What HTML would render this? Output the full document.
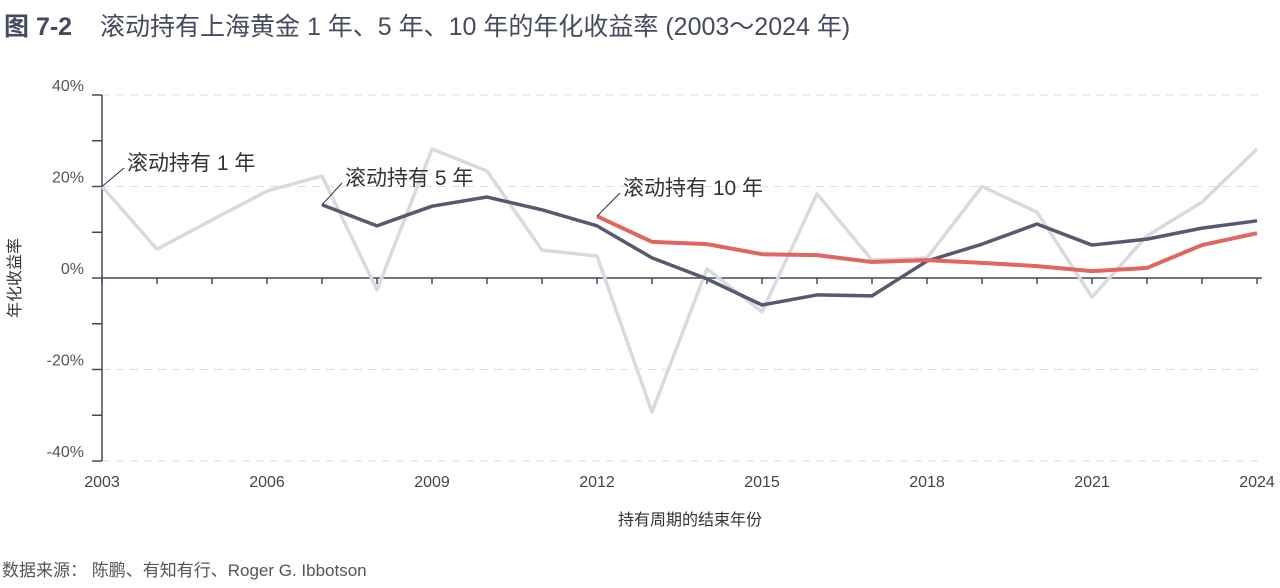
<!DOCTYPE html>
<html><head><meta charset="utf-8"><style>
body{margin:0;background:#fff;width:1280px;height:583px;overflow:hidden;font-family:"Liberation Sans","Noto Sans CJK SC",sans-serif}
svg text{font-family:"Liberation Sans","Noto Sans CJK SC",sans-serif}
</style></head><body>
<svg id="c" width="1280" height="583">
<text x="4" y="35" font-size="25" font-weight="bold" fill="#454a5c">图 7-2</text>
<text x="100" y="35" font-size="25" fill="#454a5c">滚动持有上海黄金 1 年、5 年、10 年的年化收益率 (2003～2024 年)</text>
<text x="20" y="278" font-size="16" fill="#333" transform="rotate(-90 20 278)" text-anchor="middle">年化收益率</text>
<text x="690" y="525" font-size="16" fill="#333" text-anchor="middle">持有周期的结束年份</text>
<text x="2" y="576" font-size="17" fill="#555">数据来源：  陈鹏、有知有行、Roger G. Ibbotson</text>
<g id="g"></g>
</svg>
<script>
const years=[2003,2004,2005,2006,2007,2008,2009,2010,2011,2012,2013,2014,2015,2016,2017,2018,2019,2020,2021,2022,2023,2024];
const r1=[20,6.3,12.7,19,22.3,-2.6,28.2,23.4,6.1,4.8,-29.3,2,-7.4,18.4,3.9,4.4,20,14.4,-4.2,9.2,16.6,28.2];
const y5=[2007,2008,2009,2010,2011,2012,2013,2014,2015,2016,2017,2018,2019,2020,2021,2022,2023,2024];
const r5=[16,11.4,15.7,17.7,14.9,11.4,4.4,-0.2,-5.9,-3.7,-3.9,3.7,7.4,11.8,7.2,8.5,10.9,12.5];
const y10=[2012,2013,2014,2015,2016,2017,2018,2019,2020,2021,2022,2023,2024];
const r10=[13.5,7.9,7.4,5.2,5,3.5,3.9,3.3,2.6,1.5,2.2,7.2,9.8];
const yTicks=[40,20,0,-20,-40];
const xLabels=[2003,2006,2009,2012,2015,2018,2021,2024];
const X=y=>102+(y-2003)*(1257-102)/21;
const Y=v=>278-v*183/40;
const g=document.getElementById('g');const NS='http://www.w3.org/2000/svg';
function mk(t,a){const e=document.createElementNS(NS,t);for(const k in a)e.setAttribute(k,a[k]);g.appendChild(e);return e;}
yTicks.forEach(v=>{
 if(v!==0){const l=mk('line',{x1:102,x2:1262,y1:Y(v),y2:Y(v),stroke:'#ddd','stroke-dasharray':'8,6','stroke-width':1});
 
 }
 const t=mk('text',{x:84,y:Y(v)-4,'font-size':16,fill:'#555','text-anchor':'end'});t.textContent=v+'%';
 
 
});
for(let v=-40;v<=40;v+=10){mk('line',{x1:92,x2:102,y1:Y(v),y2:Y(v),stroke:'#454a5c','stroke-width':1.5});}
const ax=mk('line',{x1:102,x2:102,y1:Y(40),y2:Y(-40),stroke:'#454a5c','stroke-width':1.5});


const zx=mk('line',{x1:102,x2:1262,y1:Y(0),y2:Y(0),stroke:'#454a5c','stroke-width':1.5});


years.forEach(y=>mk('line',{x1:X(y),x2:X(y),y1:Y(0),y2:Y(0)+6,stroke:'#454a5c','stroke-width':1.5}));
xLabels.forEach(y=>{const t=mk('text',{x:X(y),y:487,'font-size':16,fill:'#444','text-anchor':'middle'});t.textContent=y;
 
 });
function line(xs,vs,c,w,n){const p=mk('polyline',{points:xs.map((y,i)=>X(y)+','+Y(vs[i])).join(' '),fill:'none',stroke:c,'stroke-width':w,'stroke-linejoin':'round'});
 
 }
line(years,r1,'#d9d9e0',3.5,'series-1-year');
line(y5,r5,'#555a6e',3.5,'series-5-year');
line(y10,r10,'#e0665e',4,'series-10-year');
function lab(x0,y0,x1,y1,txt,n){mk('line',{x1:x0,y1:y0,x2:x1,y2:y1,stroke:'#333','stroke-width':1});
 const t=mk('text',{x:x1+3,y:y1+2,'font-size':21,fill:'#333'});t.textContent=txt;
 
 }
lab(X(2003),Y(r1[0]),124,168,'滚动持有 1 年','label-1-year');
lab(X(2007),Y(r5[0]),342,183,'滚动持有 5 年','label-5-year');
lab(X(2012),Y(r10[0]),620,193,'滚动持有 10 年','label-10-year');
</script>
</body></html>
